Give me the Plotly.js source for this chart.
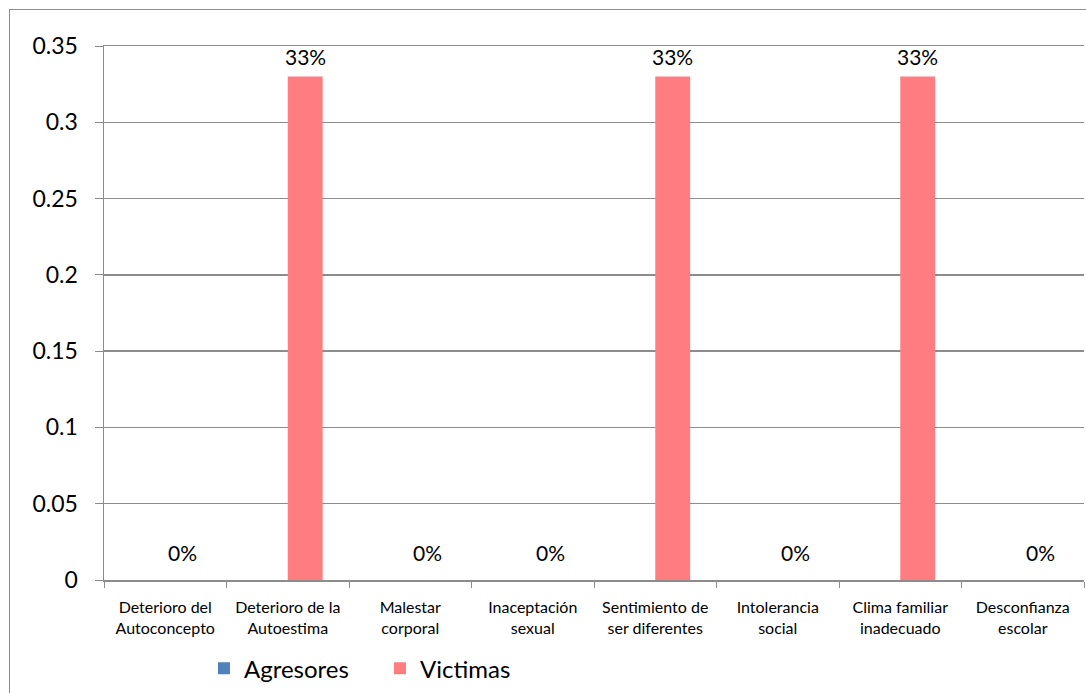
<!DOCTYPE html>
<html>
<head>
<meta charset="utf-8">
<script src="https://cdn.plot.ly/plotly-3.0.1.min.js"></script>
<style>
  html, body { margin: 0; padding: 0; background: #fff; }
  #chart { width: 1086px; height: 693px; position: absolute; left: 0; top: 0; }
  #frame { position: absolute; left: 9px; top: 9px; width: 1100px; height: 700px;
           border: 1px solid #8c8c8c; pointer-events: none; z-index: 10; box-sizing: border-box; }
</style>
</head>
<body>
<div id="chart"></div>
<div id="frame"></div>
<script>
const categories = [
  "Deterioro del<br>Autoconcepto",
  "Deterioro de la<br>Autoestima",
  "Malestar<br>corporal",
  "Inaceptación<br>sexual",
  "Sentimiento de<br>ser diferentes",
  "Intolerancia<br>social",
  "Clima familiar<br>inadecuado",
  "Desconfianza<br>escolar"
];
const agresores = [0, 0, 0, 0, 0, 0, 0, 0];
const victimas = [0, 0.33, 0, 0, 0.33, 0, 0.33, 0];
const yTickVals = [0, 0.05, 0.1, 0.15, 0.2, 0.25, 0.3, 0.35];
const yTickText = ["0", "0.05", "0.1", "0.15", "0.2", "0.25", "0.3", "0.35"];

const FONT = "Lato, 'Open Sans', sans-serif";

const traces = [
  {
    type: "bar", name: "Agresores", x: categories, y: agresores,
    marker: { color: "#4F81BD" }, hoverinfo: "none"
  },
  {
    type: "bar", name: "Victimas", x: categories, y: victimas,
    marker: { color: "#FF7C80" }, hoverinfo: "none"
  }
];

// data labels for the Victimas series, placed on the data scale
const annotations = victimas.map((v, i) => ({
  x: categories[i], y: v, xref: "x", yref: "y",
  text: Math.round(v * 100) + "%",
  showarrow: false, xshift: 17.5, yshift: v === 0 ? 28 : 20,
  yanchor: "middle", xanchor: "center",
  font: { family: FONT, size: 21, color: "#000" }
}));

const layout = {
  width: 1086, height: 693,
  margin: { l: 104, r: 2, t: 46, b: 113 },
  paper_bgcolor: "#fff", plot_bgcolor: "#fff",
  barmode: "group", bargap: 0.43, bargroupgap: 0,
  font: { family: FONT, color: "#000" },
  showlegend: true,
  legend: {
    orientation: "h", x: 0.102, xanchor: "left", y: -0.124, yanchor: "top",
    font: { family: FONT, size: 24, color: "#000" },
    entrywidth: 131, itemwidth: 30
  },
  annotations: annotations,
  xaxis: {
    type: "category", tickson: "boundaries", ticks: "outside", ticklen: 6,
    tickcolor: "#8c8c8c", showline: true, linecolor: "#8c8c8c", linewidth: 1.5,
    mirror: true,
    showgrid: false, tickfont: { family: FONT, size: 16, color: "#000" },
    tickangle: 0, automargin: false, ticklabelstandoff: 12
  },
  yaxis: {
    range: [0, 0.35], tickvals: yTickVals, ticktext: yTickText,
    ticks: "outside", ticklen: 8, tickcolor: "#8c8c8c",
    showline: true, linecolor: "#8c8c8c", linewidth: 1.5,
    showgrid: true, gridcolor: "#8c8c8c", gridwidth: 1.5,
    zeroline: false, tickfont: { family: FONT, size: 23, color: "#000" },
    ticklabelstandoff: 12, automargin: false
  }
};

Plotly.newPlot("chart", traces, layout, { staticPlot: true, displayModeBar: false });
</script>
</body>
</html>
